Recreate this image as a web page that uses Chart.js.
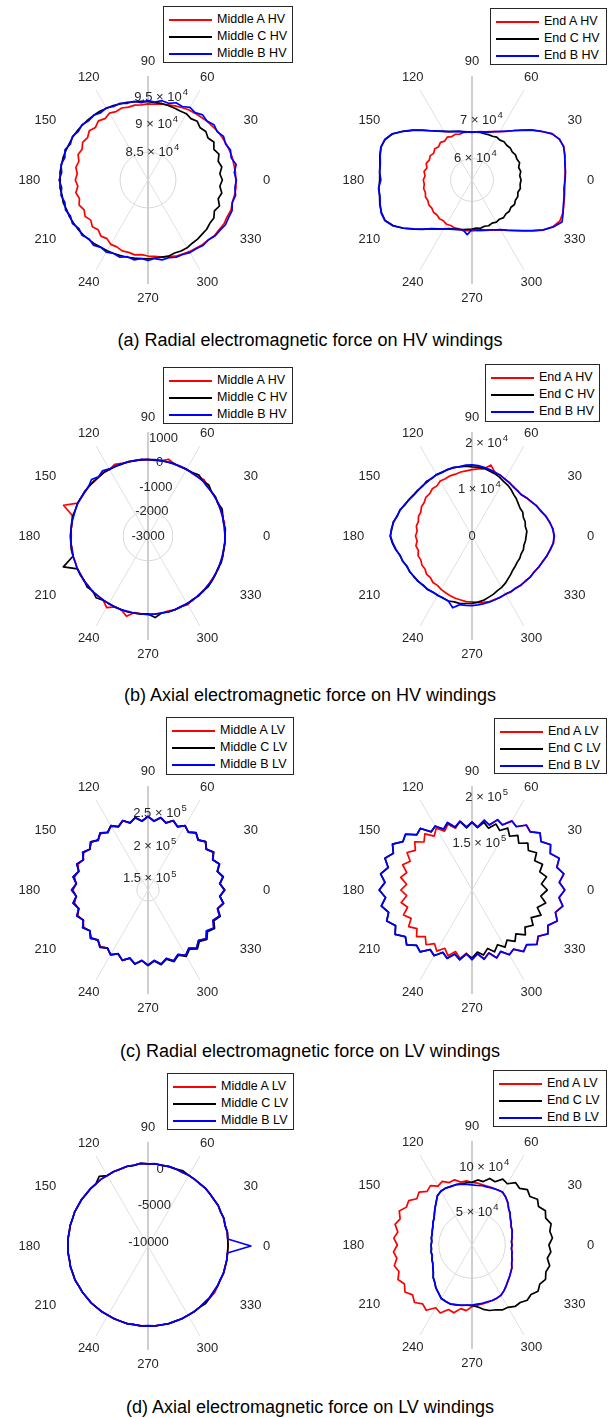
<!DOCTYPE html>
<html>
<head>
<meta charset="utf-8">
<script src="https://cdn.jsdelivr.net/npm/chart.js@4.4.0/dist/chart.umd.min.js"></script>
<style>
    html, body { margin: 0; padding: 0; background: #fff; overflow: hidden; }
    body { width: 611px; height: 1418px; position: relative; font-family: 'Liberation Sans', Arial, Helvetica, sans-serif; }
    canvas.polar { position: absolute; z-index: 1; }
    .legend { position: absolute; z-index: 2; border: 1px solid #262626; background: #fff; font-size: 12.5px; color: #000; box-sizing: border-box; padding: 4px 0 0 5px; }
    .legend div { height: 17px; line-height: 17px; white-space: nowrap; }
    .legend span { display: inline-block; width: 43px; height: 2px; vertical-align: middle; margin-right: 5px; }
    .caption { position: absolute; left: 0; width: 620px; text-align: center; font-size: 18px; line-height: 22px; color: #000; }
</style>
</head>
<body>
<div class="caption" style="top:329px">(a) Radial electromagnetic force on HV windings</div>
<div class="caption" style="top:684px">(b) Axial electromagnetic force on HV windings</div>
<div class="caption" style="top:1040px">(c) Radial electromagnetic force on LV windings</div>
<div class="caption" style="top:1396px">(d) Axial electromagnetic force on LV windings</div>
<script>
// Angulos (grados) de cada muestra: 0, 5, 10, ... 355
const angulos = Array.from({ length: 72 }, (_, i) => i * 5);
const angulosMarcados = [0, 30, 60, 90, 120, 150, 180, 210, 240, 270, 300, 330];

// Nombres de las series
const nombresMiddleHV = ['Middle A HV', 'Middle C HV', 'Middle B HV'];
const nombresEndHV = ['End A HV', 'End C HV', 'End B HV'];
const nombresMiddleLV = ['Middle A LV', 'Middle C LV', 'Middle B LV'];
const nombresEndLV = ['End A LV', 'End C LV', 'End B LV'];

// (a) Fuerza radial HV, parte media (x10^3 N)
const radialHVMiddleA = [
    95.7, 95.7, 95.6, 95.6, 95.5, 95.4, 95.3, 95.2, 95.0, 94.9, 94.7, 94.6,
    94.5, 94.3, 94.1, 93.9, 93.8, 93.6, 93.6, 93.5, 93.6, 93.5, 93.7, 93.5,
    93.8, 93.4, 93.8, 93.3, 93.7, 93.2, 93.5, 93.0, 93.3, 92.8, 93.1, 92.7,
    93.0, 92.6, 93.1, 92.7, 93.1, 92.6, 93.0, 92.5, 93.0, 92.6, 93.1, 92.8,
    93.3, 93.2, 93.5, 93.4, 93.6, 93.4, 93.6, 93.7, 94.0, 94.2, 94.5, 94.6,
    94.8, 94.9, 95.1, 95.2, 95.5, 95.5, 95.7, 95.6, 95.8, 95.6, 95.7, 95.8
];
const radialHVMiddleC = [
    93.3, 92.9, 93.4, 93.0, 93.5, 93.0, 93.6, 93.1, 93.5, 93.2, 93.7, 93.4,
    93.7, 93.6, 93.7, 93.8, 93.9, 93.9, 94.0, 94.1, 94.2, 94.4, 94.5, 94.7,
    94.8, 95.0, 95.1, 95.2, 95.3, 95.4, 95.5, 95.5, 95.6, 95.7, 95.7, 95.8,
    95.7, 95.8, 95.6, 95.7, 95.5, 95.5, 95.4, 95.3, 95.2, 95.0, 94.9, 94.7,
    94.6, 94.5, 94.4, 94.3, 94.2, 94.1, 94.1, 94.0, 94.0, 94.1, 93.9, 94.0,
    94.0, 93.8, 93.8, 93.7, 93.7, 93.5, 93.6, 93.1, 93.6, 93.0, 93.4, 92.9
];
const radialHVMiddleB = [
    95.8, 95.5, 96.0, 95.4, 95.7, 95.3, 95.6, 95.1, 95.4, 94.9, 95.2, 94.7,
    95.0, 94.5, 94.7, 94.2, 94.4, 94.0, 94.2, 93.9, 94.3, 94.2, 94.6, 94.5,
    94.9, 94.7, 95.1, 95.0, 95.4, 95.2, 95.6, 95.3, 95.8, 95.4, 95.8, 95.5,
    95.9, 95.5, 95.8, 95.4, 95.7, 95.3, 95.6, 95.1, 95.4, 94.9, 95.2, 94.7,
    94.9, 94.5, 94.7, 94.2, 94.5, 94.1, 94.4, 94.1, 94.5, 94.4, 94.7, 94.7,
    95.0, 95.0, 95.3, 95.2, 95.6, 95.7, 96.0, 95.9, 96.0, 95.6, 95.9, 95.6
];

// (a) Fuerza radial HV, extremos (x10^3 N)
const radialHVEndA = [
    78.3, 78.5, 78.8, 79.1, 79.6, 79.2, 78.3, 76.2, 74.4, 72.5, 71.1, 69.7,
    68.8, 68.2, 67.7, 67.3, 67.1, 66.9, 66.8, 66.8, 66.9, 66.7, 67.0, 66.8,
    67.2, 66.7, 67.1, 66.6, 67.0, 66.5, 66.9, 66.6, 67.0, 66.5, 67.0, 66.6,
    67.0, 66.8, 67.1, 66.9, 67.2, 67.0, 67.3, 67.1, 67.4, 67.2, 67.5, 67.3,
    67.6, 67.4, 67.6, 67.5, 67.7, 67.5, 67.6, 67.5, 67.7, 67.9, 68.2, 68.7,
    69.3, 70.3, 71.5, 73.0, 74.8, 76.9, 78.5, 79.4, 79.3, 78.9, 78.6, 78.4
];
const radialHVEndC = [
    67.1, 66.8, 67.2, 66.9, 67.5, 67.2, 67.4, 67.1, 67.3, 67.1, 67.3, 67.0,
    67.2, 66.9, 66.9, 66.8, 66.9, 66.8, 66.8, 66.9, 67.1, 67.4, 67.8, 68.2,
    68.9, 69.8, 71.0, 72.6, 74.4, 76.3, 78.1, 79.1, 79.4, 79.0, 78.5, 78.3,
    78.2, 78.5, 78.6, 79.0, 79.2, 79.1, 77.9, 76.1, 74.1, 72.4, 70.8, 69.8,
    69.0, 68.3, 67.9, 67.6, 67.4, 67.2, 67.1, 66.9, 67.1, 66.8, 67.0, 66.7,
    67.0, 66.8, 67.1, 66.8, 67.0, 66.7, 67.1, 66.8, 67.0, 66.7, 67.1, 66.9
];
const radialHVEndB = [
    78.4, 78.6, 78.7, 79.2, 79.5, 79.3, 78.2, 76.3, 74.5, 72.6, 71.0, 69.8,
    68.9, 68.2, 67.6, 67.3, 67.0, 66.9, 66.7, 66.9, 67.0, 67.4, 67.7, 68.2,
    68.9, 69.8, 71.0, 72.5, 74.3, 76.2, 78.2, 79.2, 79.3, 78.9, 78.4, 78.3,
    77.9, 78.6, 78.5, 78.9, 79.3, 79.2, 78.0, 76.0, 74.0, 72.3, 70.9, 69.9,
    69.0, 68.4, 68.0, 67.7, 67.5, 68.6, 67.2, 67.4, 67.5, 67.8, 68.1, 68.6,
    69.2, 70.2, 71.4, 72.9, 74.7, 76.8, 78.6, 80.0, 79.4, 78.8, 78.5, 78.2
];

// (b) Fuerza axial HV, parte media (N)
const axialHVMiddleA = [
    110, 80, 130, 90, 120, 100, 140, 110, 130, 200, 110, 90,
    100, 70, 90, 200, 80, 60, 90, 70, 100, 80, 110, 180,
    90, 110, 100, 80, 120, 90, 110, 130, 620, 150, 100, 110,
    90, 120, 100, 130, 110, 140, 120, 150, 130, 160, 140, 150,
    330, 150, 160, 350, 130, 150, 140, 160, 150, 130, 160, 140,
    200, 130, 150, 120, 140, 110, 130, 100, 120, 90, 110, 100
];
const axialHVMiddleC = [
    100, 130, 90, 120, 180, 110, 140, 120, 200, 130, 200, 120,
    110, 90, 100, 80, 90, 70, 80, 90, 70, 100, 80, 90,
    100, 120, 90, 110, 100, 120, 110, 130, 110, 140, 120, 110,
    130, 120, 140, 120, 630, 130, 150, 130, 200, 140, 250, 160,
    140, 160, 150, 170, 150, 160, 140, 300, 150, 170, 160, 140,
    150, 130, 160, 140, 170, 150, 130, 110, 140, 120, 100, 110
];
const axialHVMiddleB = [
    100, 110, 90, 120, 100, 130, 110, 120, 100, 130, 110, 100,
    90, 100, 80, 90, 70, 90, 80, 100, 80, 90, 100, 110,
    120, 200, 110, 220, 120, 110, 100, 120, 110, 100, 120, 110,
    100, 120, 110, 130, 120, 140, 130, 150, 140, 160, 150, 140,
    160, 150, 170, 140, 160, 150, 170, 160, 150, 170, 160, 150,
    140, 160, 130, 150, 120, 140, 110, 130, 100, 120, 90, 110
];

// (b) Fuerza axial HV, extremos (x10^3 N)
const axialHVEndA = [
    17.4, 17.3, 16.7, 16.3, 15.5, 15.2, 14.5, 14.2, 13.6, 13.7, 13.6, 13.9,
    13.9, 14.3, 14.3, 15.6, 14.5, 14.3, 14.1, 13.9, 13.8, 13.6, 13.6, 13.4,
    13.5, 13.0, 13.1, 12.7, 12.8, 12.4, 12.4, 12.0, 12.1, 11.8, 12.0, 11.7,
    12.0, 11.7, 12.1, 11.8, 12.2, 12.0, 12.3, 12.2, 12.6, 12.5, 12.9, 12.8,
    13.1, 13.3, 13.5, 13.7, 13.8, 14.0, 14.0, 14.2, 14.3, 14.4, 14.3, 14.4,
    14.2, 14.5, 14.4, 14.8, 14.8, 15.2, 15.2, 15.7, 15.9, 16.5, 16.8, 17.4
];
const axialHVEndC = [
    11.5, 11.7, 11.5, 11.7, 11.6, 11.9, 11.8, 12.0, 12.3, 12.5, 12.9, 13.2,
    13.4, 13.8, 14.1, 14.3, 14.6, 14.7, 14.7, 14.9, 14.9, 15.1, 15.0, 15.0,
    15.1, 14.9, 15.1, 14.9, 15.1, 15.2, 15.5, 15.7, 16.3, 16.4, 17.0, 17.1,
    17.4, 17.0, 16.5, 15.8, 15.7, 15.2, 15.3, 15.0, 15.0, 14.7, 14.8, 14.5,
    14.6, 14.5, 14.7, 14.5, 14.6, 14.4, 14.3, 14.1, 13.9, 13.5, 13.2, 12.8,
    12.6, 12.3, 11.9, 11.6, 11.3, 11.2, 11.1, 11.2, 11.1, 11.3, 11.2, 11.4
];
const axialHVEndB = [
    17.5, 17.2, 16.8, 16.2, 15.6, 15.1, 14.6, 14.1, 13.7, 13.6, 13.7, 13.8,
    14.0, 14.2, 14.4, 14.6, 14.8, 15.0, 15.1, 15.1, 15.0, 15.0, 15.1, 14.9,
    15.0, 15.0, 14.9, 15.0, 15.0, 15.1, 15.4, 15.8, 16.2, 16.5, 16.9, 17.2,
    17.3, 16.9, 16.4, 15.9, 15.6, 15.3, 15.2, 15.1, 14.9, 14.8, 14.7, 14.6,
    14.5, 14.6, 14.7, 15.8, 14.8, 14.8, 14.8, 14.7, 14.6, 14.5, 14.4, 14.3,
    14.3, 14.4, 14.5, 14.7, 14.9, 15.1, 15.3, 15.6, 16.0, 16.4, 16.9, 17.3
];

// (c) Fuerza radial LV, parte media (x10^3 N)
const radialLVMiddleA = [
    248.5, 242.5, 248, 242, 247.5, 241.5, 247, 241, 246.5, 240.5, 246, 240,
    245, 239, 244.5, 238.5, 244, 238, 244, 238, 244, 238.5, 244.5, 239,
    244.5, 240, 244.5, 240.5, 245, 241, 245.5, 241.5, 246, 242, 246, 242.5,
    246.5, 242.5, 246, 242, 246, 241.5, 245.5, 241, 245, 240.5, 245, 240.5,
    246, 240, 246.5, 240, 246.5, 240.5, 246.5, 240.5, 247, 240.5, 247, 241,
    247, 241, 247.5, 241.5, 247.5, 241.5, 248, 242, 248, 242, 248.5, 242.5
];
const radialLVMiddleC = [
    249.5, 242.5, 249, 242, 248.5, 241.5, 248, 241, 247, 240.5, 246.5, 240,
    245.5, 239, 245, 238.5, 244.5, 238, 244.5, 238, 244.5, 238.5, 245, 239,
    245.5, 239.5, 246, 240, 246.5, 240.5, 247, 241, 247.5, 241.5, 248, 242,
    248.5, 242, 248, 241.5, 247.5, 241, 247, 240.5, 246.5, 240.5, 246, 240.5,
    246, 240, 246.5, 240, 247, 240.5, 247.5, 241, 248, 241.5, 248.5, 242,
    249, 242.5, 249.5, 243, 249.5, 243, 249.5, 243, 249.5, 242.5, 249.5, 242.5
];
const radialLVMiddleB = [
    249, 242, 248.5, 241.5, 248, 241, 247.5, 240.5, 247, 240, 246, 239.5,
    245.5, 238.5, 245, 238, 244.5, 237.5, 244.5, 237.5, 244.5, 238, 245, 238.5,
    245.5, 239, 246, 239.5, 246.5, 240.5, 247.5, 241, 248, 241.5, 248.5, 242,
    249, 242, 248.5, 241.5, 248, 241, 247.5, 240.5, 247, 240, 246.5, 240,
    246.5, 239.5, 246.5, 239.5, 247, 240, 247, 240, 247, 240, 247, 240.5,
    247.5, 240.5, 247.5, 241, 248, 241, 248, 241.5, 248.5, 242, 249, 242
];

// (c) Fuerza radial LV, extremos (x10^3 N)
const radialLVEndA = [
    198.5, 193.4, 199.0, 193.6, 198.5, 192.0, 196.3, 189.9, 194.2, 187.7, 189.9, 182.4,
    184.6, 176.6, 179.3, 171.8, 175.1, 167.5, 172.5, 167.5, 174.0, 168.0, 174.5, 169.0,
    176.0, 170.0, 178.0, 172.2, 179.5, 173.5, 179.8, 172.5, 178.5, 171.8, 177.0, 169.8,
    175.7, 169.7, 176.5, 170.9, 177.5, 171.4, 177.8, 171.5, 177.0, 170.2, 176.0, 169.6,
    175.0, 168.4, 174.5, 167.8, 173.8, 167.5, 174.0, 168.0, 174.5, 169.1, 176.6, 172.3,
    179.3, 177.1, 185.2, 182.4, 189.9, 186.1, 193.1, 189.3, 196.3, 192.0, 197.9, 193.1
];
const radialLVEndC = [
    180.1, 174.1, 180.6, 174.6, 179.8, 173.6, 179.2, 173.2, 177.5, 170.3, 175.8, 169.8,
    176.0, 169.8, 174.6, 168.0, 173.0, 166.5, 172.0, 166.4, 174.0, 169.2, 176.2, 171.3,
    178.3, 175.5, 185.4, 183.0, 192.2, 189.8, 197.5, 192.4, 198.6, 192.2, 198.6, 193.0,
    198.6, 192.4, 197.8, 191.9, 196.4, 189.8, 194.3, 186.6, 190.6, 183.4, 185.8, 177.5,
    180.5, 173.3, 177.2, 170.6, 175.2, 168.5, 172.3, 166.2, 170.2, 164.3, 170.0, 164.2,
    170.2, 165.0, 171.2, 166.0, 174.1, 168.8, 175.0, 169.5, 178.1, 171.9, 179.6, 173.4
];
const radialLVEndB = [
    198.8, 193.1, 199.3, 193.3, 198.8, 191.7, 196.6, 189.6, 194.5, 187.4, 190.2, 182.1,
    184.9, 176.3, 179.6, 171.5, 175.4, 167.2, 172.2, 167.2, 174.3, 169.4, 176.4, 171.5,
    178.5, 175.7, 185.5, 183.2, 192.4, 189.6, 197.7, 192.2, 198.4, 192.4, 198.8, 192.8,
    198.8, 192.2, 198.0, 191.7, 196.6, 189.6, 194.5, 186.4, 190.8, 183.2, 186.0, 177.3,
    180.7, 173.1, 177.5, 170.4, 175.4, 168.3, 174.0, 168.3, 174.8, 169.4, 176.9, 172.0,
    179.6, 176.8, 185.5, 182.1, 190.2, 185.8, 193.4, 189.0, 196.6, 191.7, 198.2, 192.8
];

// (d) Fuerza axial LV, parte media (N)
const axialLVMiddleA = [
    300, 320, 360, 280, 390, 340, 430, 390, 440, 480, 450, 470,
    510, 470, 550, 590, 560, 640, 590, 680, 570, 610, 540, 550,
    490, 510, 440, 460, 410, 440, 390, 410, 340, 360, 310, 340,
    290, 320, 270, 330, 310, 370, 290, 340, 300, 350, 310, 350,
    290, 320, 310, 350, 290, 330, 280, 340, 310, 340, 300, 320,
    300, 330, 320, 360, 420, 480, 350, 300, 330, 290, 310, 280
];
const axialLVMiddleC = [
    310, 300, 370, 270, 400, 340, 440, 390, 430, 490, 440, 480,
    510, 700, 550, 600, 550, 640, 590, 690, 560, 610, 530, 560,
    480, 980, 440, 460, 400, 450, 390, 420, 330, 360, 300, 350,
    290, 330, 270, 340, 300, 370, 290, 330, 300, 360, 310, 340,
    290, 330, 300, 350, 290, 320, 270, 330, 300, 350, 290, 330,
    300, 330, 310, 500, 380, 300, 320, 270, 340, 280, 300, 270
];
const axialLVMiddleB = [
    3400, 300, 380, 250, 400, 330, 450, 380, 420, 500, 430, 480,
    520, 450, 560, 600, 540, 650, 580, 700, 560, 620, 520, 560,
    480, 520, 430, 470, 400, 450, 380, 420, 330, 370, 300, 350,
    280, 330, 260, 340, 300, 380, 280, 330, 290, 360, 300, 340,
    280, 330, 300, 360, 280, 320, 260, 330, 300, 350, 290, 330,
    290, 340, 300, 270, 330, 280, 320, 260, 340, 280, 300, 260
];

// (d) Fuerza axial LV, extremos (x10^3 N)
const axialLVEndA = [
    57.2, 57.4, 58.0, 59.3, 60.2, 61.3, 62.8, 65.2, 67.8, 70.6, 74.5, 78.3,
    80.6, 80.8, 80.0, 80.5, 81.0, 82.0, 82.6, 84.5, 84.0, 88.0, 86.8, 91.0,
    88.6, 93.5, 90.8, 96.2, 93.0, 98.9, 97.2, 102.2, 98.0, 101.5, 96.7, 100.3,
    96.0, 100.6, 97.8, 102.4, 99.4, 103.8, 99.7, 104.0, 99.2, 103.4, 98.4, 101.6,
    93.6, 96.4, 89.3, 91.0, 84.8, 86.2, 81.5, 80.1, 79.6, 79.0, 78.6, 78.4,
    77.3, 75.1, 72.0, 69.6, 67.4, 65.7, 64.0, 61.8, 60.2, 59.0, 58.0, 57.3
];
const axialLVEndC = [
    98.5, 102.8, 100.8, 104.0, 100.2, 103.0, 98.4, 101.8, 97.0, 100.0, 95.2, 97.6,
    91.6, 93.8, 87.8, 89.6, 84.6, 85.6, 82.6, 82.5, 82.0, 82.4, 82.3, 82.6,
    82.0, 80.0, 75.1, 71.0, 67.5, 64.6, 63.0, 61.1, 59.9, 59.0, 58.8, 58.0,
    58.4, 58.4, 59.0, 58.9, 60.3, 61.2, 63.1, 65.6, 69.2, 71.7, 75.3, 78.1,
    81.4, 82.3, 82.8, 81.8, 81.0, 80.2, 80.3, 82.0, 85.6, 88.4, 89.6, 92.6,
    93.0, 96.4, 96.4, 99.8, 98.6, 102.6, 100.0, 103.2, 100.4, 102.4, 98.0, 101.0
];
const axialLVEndB = [
    57.6, 56.9, 58.3, 59.0, 60.6, 60.9, 63.4, 64.8, 68.4, 70.5, 75.0, 78.1,
    81.0, 80.5, 80.5, 79.5, 80.0, 79.4, 79.9, 80.6, 81.6, 82.4, 82.1, 82.8,
    82.2, 79.9, 74.9, 71.2, 67.6, 64.4, 63.3, 60.9, 60.1, 58.8, 58.9, 57.8,
    58.6, 58.2, 59.2, 58.7, 60.5, 61.0, 63.3, 65.4, 69.4, 71.5, 75.5, 77.9,
    81.6, 82.1, 83.0, 81.6, 81.1, 80.0, 79.9, 79.0, 78.8, 78.3, 78.7, 78.2,
    77.6, 74.9, 72.2, 69.4, 67.6, 65.5, 64.3, 61.6, 60.5, 58.8, 58.3, 56.9
];

// Marcas del eje radial y sus etiquetas (el exponente va tras '^')
const ticksRadialHVMiddle = [85, 90, 95];
const etiquetasRadialHVMiddle = ['8.5 × 10^4', '9 × 10^4', '9.5 × 10^4'];
const ticksRadialHVEnd = [60, 70];
const etiquetasRadialHVEnd = ['6 × 10^4', '7 × 10^4'];
const ticksAxialHVMiddle = [-2000, -1000, 0, 1000];
const etiquetasAxialHVMiddle = ['-2000', '-1000', '0', '1000'];
const ticksAxialHVEnd = [10, 20];
const etiquetasAxialHVEnd = ['1 × 10^4', '2 × 10^4'];
const ticksRadialLVMiddle = [150, 200, 250];
const etiquetasRadialLVMiddle = ['1.5 × 10^5', '2 × 10^5', '2.5 × 10^5'];
const ticksRadialLVEnd = [150, 200];
const etiquetasRadialLVEnd = ['1.5 × 10^5', '2 × 10^5'];
const ticksAxialLVMiddle = [-10000, -5000, 0];
const etiquetasAxialLVMiddle = ['-10000', '-5000', '0'];
const ticksAxialLVEnd = [50, 100];
const etiquetasAxialLVEnd = ['5 × 10^4', '10 × 10^4'];

const colores = ['#ff0000', '#000000', '#0000ff'];
const ordenDibujo = [3, 2, 1]; // la serie azul queda encima
const fuenteBase = "13px 'Liberation Sans', Arial, sans-serif";
const fuenteExp = "9.5px 'Liberation Sans', Arial, sans-serif";

Chart.defaults.font.family = "'Liberation Sans', Arial, Helvetica, sans-serif";

// Chart.js empieza arriba y gira en sentido horario; el grafico polar empieza a la derecha y gira al reves
function aRadar(serie) {
    const n = serie.length;
    const q = n / 4;
    return serie.map((_, i) => serie[((q - i) % n + n) % n]);
}

// Etiquetas de angulo alrededor de cada grafico
const pluginAngulos = {
    id: 'angulos',
    afterDraw(chart) {
        const escala = chart.scales.r;
        const ctx = chart.ctx;
        const dist = escala.drawingArea * 1.14;
        ctx.save();
        ctx.font = fuenteBase;
        ctx.fillStyle = '#262626';
        ctx.textAlign = 'center';
        ctx.textBaseline = 'middle';
        angulosMarcados.forEach(a => {
            const rad = a * Math.PI / 180;
            ctx.fillText(String(a), escala.xCenter + dist * Math.cos(rad), escala.yCenter - dist * Math.sin(rad));
        });
        ctx.restore();
    }
};

// Etiquetas del eje radial, colocadas sobre un radio a unos 81 grados (como en el original)
function crearPluginMarcas(g) {
    return {
        id: 'marcasRadiales',
        beforeDatasetsDraw(chart) {
            const escala = chart.scales.r;
            const ctx = chart.ctx;
            const ang = 81 * Math.PI / 180;
            ctx.save();
            ctx.fillStyle = '#262626';
            ctx.textBaseline = 'middle';
            ctx.textAlign = 'left';
            escala.ticks.forEach((tick, i) => {
                const texto = i === 0 ? g.centro : g.etiquetas[i - 1];
                if (!texto) return;
                const d = escala.getDistanceFromCenterForValue(tick.value);
                const x = escala.xCenter + d * Math.cos(ang);
                const y = escala.yCenter - d * Math.sin(ang);
                const partes = texto.split('^');
                ctx.font = fuenteBase;
                const anchoBase = ctx.measureText(partes[0]).width;
                let anchoExp = 0;
                if (partes[1]) {
                    ctx.font = fuenteExp;
                    anchoExp = ctx.measureText(partes[1]).width + 1;
                }
                const x0 = x - (anchoBase + anchoExp) / 2;
                ctx.font = fuenteBase;
                ctx.fillText(partes[0], x0, y);
                if (partes[1]) {
                    ctx.font = fuenteExp;
                    ctx.fillText(partes[1], x0 + anchoBase + 1, y - 5);
                }
            });
            ctx.restore();
        }
    };
}

function crearGraficoPolar(g) {
    const canvas = document.createElement('canvas');
    canvas.width = 301;
    canvas.height = 301;
    canvas.className = 'polar';
    canvas.style.left = (g.cx - 150) + 'px';
    canvas.style.top = (g.cy - 150) + 'px';
    document.body.appendChild(canvas);

    const n = g.series[0].length;
    const paso = 360 / n;
    const anguloDeIndice = i => (((90 - i * paso) % 360) + 360) % 360;

    new Chart(canvas.getContext('2d'), {
        type: 'radar',
        data: {
            labels: aRadar(angulos).map(String),
            datasets: g.series.map((serie, k) => ({
                label: g.nombres[k],
                data: aRadar(serie),
                borderColor: colores[k],
                backgroundColor: colores[k],
                borderWidth: 1.7,
                borderJoinStyle: 'round',
                fill: false,
                pointRadius: 0,
                order: ordenDibujo[k]
            }))
        },
        options: {
            responsive: false,
            animation: false,
            events: [],
            layout: { padding: 46 },
            plugins: { legend: { display: false }, tooltip: { enabled: false } },
            scales: {
                r: {
                    min: g.min,
                    max: g.max,
                    startAngle: 0,
                    afterBuildTicks: escala => {
                        escala.ticks = [g.min].concat(g.ticks).map(v => ({ value: v }));
                    },
                    ticks: { display: false },
                    grid: {
                        circular: true,
                        lineWidth: 1,
                        color: ctx => (ctx.tick && ctx.tick.value === g.anillo) ? '#d8d8d8' : 'rgba(0,0,0,0)'
                    },
                    angleLines: {
                        display: true,
                        color: ctx => {
                            const a = anguloDeIndice(ctx.index);
                            return (a === 90 || a === 270) ? '#cfcfcf' : '#e0e0e0';
                        },
                        lineWidth: ctx => {
                            const a = anguloDeIndice(ctx.index);
                            if (a === 90 || a === 270) return 2;
                            return (a % 60 === 0 && a % 180 !== 0) ? 1 : 0;
                        }
                    },
                    pointLabels: { display: false }
                }
            }
        },
        plugins: [pluginAngulos, crearPluginMarcas(g)]
    });
}

function crearLeyenda(g) {
    const caja = document.createElement('div');
    caja.className = 'legend';
    caja.style.left = g.leyenda[0] + 'px';
    caja.style.top = g.leyenda[1] + 'px';
    caja.style.width = g.leyenda[2] + 'px';
    caja.style.height = g.leyenda[3] + 'px';
    g.nombres.forEach((nombre, k) => {
        const fila = document.createElement('div');
        const linea = document.createElement('span');
        linea.style.background = colores[k];
        fila.appendChild(linea);
        fila.appendChild(document.createTextNode(nombre));
        caja.appendChild(fila);
    });
    document.body.appendChild(caja);
}

const graficos = [
    { cx: 148, cy: 180, min: 80, max: 98.6, ticks: ticksRadialHVMiddle, etiquetas: etiquetasRadialHVMiddle, centro: '', anillo: 85,
      series: [radialHVMiddleA, radialHVMiddleC, radialHVMiddleB], nombres: nombresMiddleHV, leyenda: [163, 6, 130, 57] },
    { cx: 472, cy: 180, min: 54.5, max: 81.2, ticks: ticksRadialHVEnd, etiquetas: etiquetasRadialHVEnd, centro: '', anillo: 60,
      series: [radialHVEndA, radialHVEndC, radialHVEndB], nombres: nombresEndHV, leyenda: [490, 8, 117, 57] },
    { cx: 148, cy: 536, min: -3000, max: 1190, ticks: ticksAxialHVMiddle, etiquetas: etiquetasAxialHVMiddle, centro: '-3000', anillo: -2000,
      series: [axialHVMiddleA, axialHVMiddleC, axialHVMiddleB], nombres: nombresMiddleHV, leyenda: [163, 367, 130, 57] },
    { cx: 472, cy: 536, min: -0.01, max: 22.1, ticks: ticksAxialHVEnd, etiquetas: etiquetasAxialHVEnd, centro: '0', anillo: null,
      series: [axialHVEndA, axialHVEndC, axialHVEndB], nombres: nombresEndHV, leyenda: [485, 364, 115, 58] },
    { cx: 148, cy: 890, min: 133, max: 290.6, ticks: ticksRadialLVMiddle, etiquetas: etiquetasRadialLVMiddle, centro: '', anillo: 150,
      series: [radialLVMiddleA, radialLVMiddleC, radialLVMiddleB], nombres: nombresMiddleLV, leyenda: [166, 717, 128, 58] },
    { cx: 472, cy: 890, min: 100, max: 210.6, ticks: ticksRadialLVEnd, etiquetas: etiquetasRadialLVEnd, centro: '', anillo: null,
      series: [radialLVEndA, radialLVEndC, radialLVEndB], nombres: nombresEndLV, leyenda: [494, 718, 113, 56] },
    { cx: 148, cy: 1246, min: -10500, max: 3540, ticks: ticksAxialLVMiddle, etiquetas: etiquetasAxialLVMiddle, centro: '', anillo: null,
      series: [axialLVMiddleA, axialLVMiddleC, axialLVMiddleB], nombres: nombresMiddleLV, leyenda: [167, 1073, 127, 57] },
    { cx: 472, cy: 1245, min: 13, max: 128.6, ticks: ticksAxialLVEnd, etiquetas: etiquetasAxialLVEnd, centro: '', anillo: 50,
      series: [axialLVEndA, axialLVEndC, axialLVEndB], nombres: nombresEndLV, leyenda: [493, 1070, 114, 57] }
];

graficos.forEach(g => {
    crearGraficoPolar(g);
    crearLeyenda(g);
});
</script>
</body>
</html>
